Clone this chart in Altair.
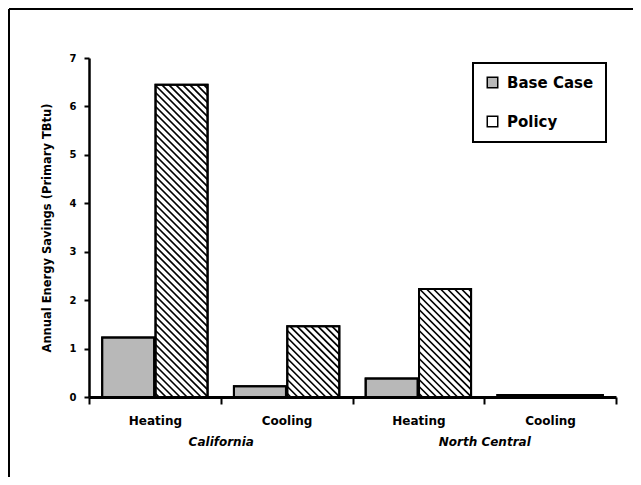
import altair as alt
import pandas as pd
import numpy as np

# ---- data ----
categories = ["Heating", "Cooling", "Heating", "Cooling"]
regions = ["California", "North Central"]
series = ["Base Case", "Policy"]
base_case = [1.23, 0.22, 0.38, 0.04]
policy = [6.45, 1.46, 2.23, 0.04]
y_ticks = [0, 1, 2, 3, 4, 5, 6, 7]

W, H = 527, 339
X_MAX, Y_MAX = len(categories), 7

rows = []
for i, (b, p) in enumerate(zip(base_case, policy)):
    rows.append(dict(series=series[0], x0=i + 0.1, x1=i + 0.495, value=b))
    rows.append(dict(series=series[1], x0=i + 0.505, x1=i + 0.9, value=p))
bars = pd.DataFrame(rows)

# diagonal hatch for the Policy bars, clipped to each bar
sx, sy = W / X_MAX, H / Y_MAX
spacing = 7.0
hatch = []
for r in rows:
    if r["series"] != series[1]:
        continue
    X0, X1, T = r["x0"] * sx, r["x1"] * sx, r["value"] * sy
    for c in np.arange(X0 + spacing / 2, X1 + T, spacing):
        xs, xe = max(X0, c - T), min(X1, c)
        if xe > xs:
            hatch.append(dict(hx=xs / sx, hy=(c - xs) / sy, hx2=xe / sx, hy2=(c - xe) / sy))
hatch = pd.DataFrame(hatch)

# x-axis labels: category names at band centres, region names at group centres
lab = []
for k in range(2 * X_MAX + 1):
    if k % 2 == 1:
        lab.append("'" + categories[k // 2] + "'")
    elif k in (2, 6):
        lab.append("['', '" + regions[(k - 2) // 4] + "']")
    else:
        lab.append("''")
label_expr = "[" + ", ".join(lab) + "][round(datum.value * 2)]"
x_vals = [k / 2 for k in range(2 * X_MAX + 1)]

is_int = "datum.value % 1 === 0"
x_axis = alt.Axis(
    values=x_vals, labelExpr=label_expr, title=None, grid=False,
    domainColor="black", domainWidth=3, tickColor="black", tickWidth=2, tickSize=7,
    tickOpacity={"condition": {"test": is_int, "value": 1}, "value": 0},
    labelFontStyle={"condition": {"test": is_int, "value": "italic"}, "value": "normal"},
    labelFont="DejaVu Sans", labelFontWeight="bold", labelFontSize=12, labelColor="black",
    labelPadding=11, labelLineHeight=21, labelAngle=0, labelOverlap=False, labelFlush=False,
    labelBound=False,
)
y_axis = alt.Axis(
    values=y_ticks, title="Annual Energy Savings (Primary TBtu)", grid=False,
    domainColor="black", domainWidth=2.5, tickColor="black", tickWidth=2, tickSize=5,
    labelFont="DejaVu Sans", labelFontWeight="bold", labelFontSize=10, labelColor="black",
    labelPadding=8,
    titleFont="DejaVu Sans", titleFontWeight="bold", titleFontSize=11.5, titleColor="black",
    titleX=-42, titleY=H / 2, titleAlign="center", titleBaseline="middle",
)

xs_scale = alt.Scale(domain=[0, X_MAX], nice=False, zero=False)
ys_scale = alt.Scale(domain=[0, Y_MAX], nice=False)

bar_layer = alt.Chart(bars).mark_rect(stroke="black", strokeWidth=2).encode(
    x=alt.X("x0:Q", scale=xs_scale, axis=x_axis),
    x2="x1:Q",
    y=alt.Y("value:Q", scale=ys_scale, axis=y_axis),
    y2=alt.datum(0),
    color=alt.Color(
        "series:N",
        scale=alt.Scale(domain=series, range=["#b8b8b8", "white"]),
        legend=alt.Legend(
            title=None, orient="none", legendX=384, legendY=5,
            strokeColor="black", fillColor="white", padding=12,
            symbolType="square", symbolSize=110, symbolStrokeColor="black",
            symbolStrokeWidth=1.5, labelFont="DejaVu Sans", labelFontSize=15,
            labelFontWeight="bold", labelColor="black", rowPadding=22, labelOffset=7,
        ),
    ),
)

hatch_layer = alt.Chart(hatch).mark_rule(color="black", strokeWidth=1.7).encode(
    x=alt.X("hx:Q", scale=xs_scale, axis=x_axis),
    x2="hx2:Q",
    y=alt.Y("hy:Q", scale=ys_scale, axis=y_axis),
    y2="hy2:Q",
)

outline_layer = alt.Chart(bars).mark_rect(fill=None, stroke="black", strokeWidth=2).encode(
    x=alt.X("x0:Q", scale=xs_scale, axis=x_axis),
    x2="x1:Q",
    y=alt.Y("value:Q", scale=ys_scale, axis=y_axis),
    y2=alt.datum(0),
)

one = alt.Data(values=[{}])
frame_top = alt.Chart(one).mark_rule(color="black", strokeWidth=2).encode(
    x=alt.value(-80), x2=alt.value(W + 17), y=alt.value(-49)
)
frame_left = alt.Chart(one).mark_rule(color="black", strokeWidth=2).encode(
    x=alt.value(-80), y=alt.value(-49), y2=alt.value(H + 80)
)

chart = alt.layer(bar_layer, hatch_layer, outline_layer, frame_top, frame_left).properties(
    width=W, height=H,
    padding={"left": 81, "top": 50, "right": 17, "bottom": 80},
    autosize=alt.AutoSizeParams(type="none"),
    background="white",
).configure_view(stroke=None).configure_legend(strokeWidth=2)

chart.save("out.html", embed_options={"renderer": "svg", "actions": False})
